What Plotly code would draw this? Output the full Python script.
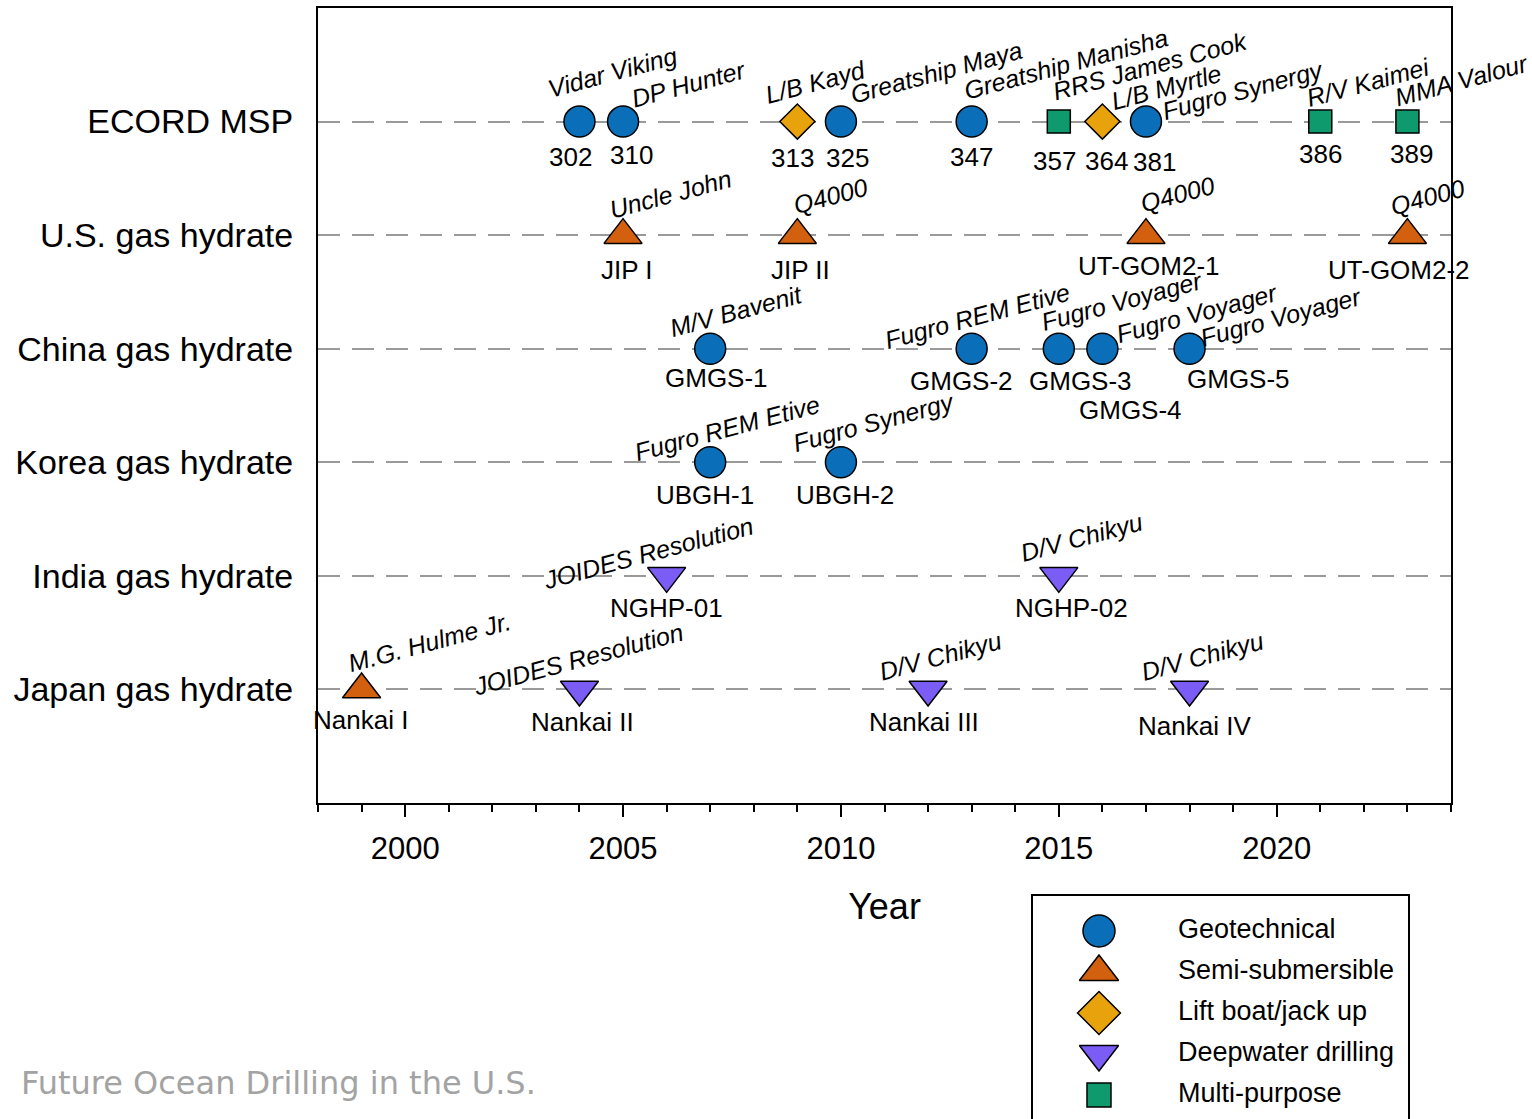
import plotly.graph_objects as go

# ---------------- data ----------------
programs = ["ECORD MSP", "U.S. gas hydrate", "China gas hydrate",
            "Korea gas hydrate", "India gas hydrate", "Japan gas hydrate"]

vessel_types = ["Geotechnical", "Semi-submersible", "Lift boat/jack up",
                "Deepwater drilling", "Multi-purpose"]

exp_program = (["ECORD MSP"] * 10 + ["U.S. gas hydrate"] * 4 +
               ["China gas hydrate"] * 5 + ["Korea gas hydrate"] * 2 +
               ["India gas hydrate"] * 2 + ["Japan gas hydrate"] * 4)

exp_year = [2004, 2005, 2009, 2010, 2013, 2015, 2016, 2017, 2021, 2023,
            2005, 2009, 2017, 2023,
            2007, 2013, 2015, 2016, 2018,
            2007, 2010,
            2006, 2015,
            1999, 2004, 2012, 2018]

exp_type = ["Geotechnical", "Geotechnical", "Lift boat/jack up", "Geotechnical",
            "Geotechnical", "Multi-purpose", "Lift boat/jack up", "Geotechnical",
            "Multi-purpose", "Multi-purpose",
            "Semi-submersible", "Semi-submersible", "Semi-submersible", "Semi-submersible",
            "Geotechnical", "Geotechnical", "Geotechnical", "Geotechnical", "Geotechnical",
            "Geotechnical", "Geotechnical",
            "Deepwater drilling", "Deepwater drilling",
            "Semi-submersible", "Deepwater drilling", "Deepwater drilling", "Deepwater drilling"]

exp_name = ["302", "310", "313", "325", "347", "357", "364", "381", "386", "389",
            "JIP I", "JIP II", "UT-GOM2-1", "UT-GOM2-2",
            "GMGS-1", "GMGS-2", "GMGS-3", "GMGS-4", "GMGS-5",
            "UBGH-1", "UBGH-2",
            "NGHP-01", "NGHP-02",
            "Nankai I", "Nankai II", "Nankai III", "Nankai IV"]

exp_ship = ["Vidar Viking", "DP Hunter", "L/B Kayd", "Greatship Maya",
            "Greatship Manisha", "RRS James Cook", "L/B Myrtle", "Fugro Synergy",
            "R/V Kaimei", "MMA Valour",
            "Uncle John", "Q4000", "Q4000", "Q4000",
            "M/V Bavenit", "Fugro REM Etive", "Fugro Voyager", "Fugro Voyager", "Fugro Voyager",
            "Fugro REM Etive", "Fugro Synergy",
            "JOIDES Resolution", "D/V Chikyu",
            "M.G. Hulme Jr.", "JOIDES Resolution", "D/V Chikyu", "D/V Chikyu"]

year_ticks = [2000, 2005, 2010, 2015, 2020]

# ---------------- styles / label placement (pixels) ----------------
styles = {
    "Geotechnical":       dict(symbol="circle",        color="#0a6fb8", size=31, lsize=32),
    "Semi-submersible":   dict(symbol="triangle-up",   color="#d2600e", size=33, lsize=34),
    "Lift boat/jack up":  dict(symbol="diamond",       color="#e8a20c", size=27, lsize=33),
    "Deepwater drilling": dict(symbol="triangle-down", color="#7b5cf5", size=33, lsize=34),
    "Multi-purpose":      dict(symbol="square",        color="#0f9a6e", size=23, lsize=24),
}

ship_offsets = [(33, -50), (65, -38), (18, -40), (96, -50), (94, -58), (91, -56),
                (64, -35), (97, -32), (48, -40), (54, -42),
                (47, -41), (33, -39), (32, -41), (20, -38),
                (26, -38), (5, -33), (63, -48), (95, -36), (91, -32),
                (17, -34), (33, -40),
                (-19, -23), (23, -39),
                (68, -47), (-1, -30), (12, -33), (13, -33)]

name_offsets = [(-9, 35), (8, 33), (-5, 36), (7, 36), (0, 35), (-4, 39), (4, 39),
                (9, 40), (0, 32), (4, 32),
                (4, 35), (3, 35), (3, 31), (-8, 35),
                (6, 29), (-10, 32), (22, 32), (28, 61), (49, 30),
                (-5, 33), (4, 33),
                (0, 32), (13, 32),
                (-1, 31), (3, 33), (-4, 33), (5, 37)]

FONT = "Liberation Sans, Arial, sans-serif"
W, H = 1532, 1119
# plot area in pixels
PL, PR, PT, PB = 318, 1451, 8, 803

row_value = {p: len(programs) - i for i, p in enumerate(programs)}

fig = go.Figure()

for vt in vessel_types:
    idx = [i for i, t in enumerate(exp_type) if t == vt]
    st = styles[vt]
    fig.add_trace(go.Scatter(
        x=[exp_year[i] for i in idx],
        y=[row_value[exp_program[i]] for i in idx],
        mode="markers",
        marker=dict(symbol=st["symbol"], size=st["size"], color=st["color"],
                    line=dict(color="black", width=1.5)),
        name=vt, showlegend=False, xaxis="x", yaxis="y",
        cliponaxis=False,
    ))

annotations = []
for i in range(len(exp_year)):
    yv = row_value[exp_program[i]]
    dx, dy = ship_offsets[i]
    annotations.append(dict(
        x=exp_year[i], y=yv, xref="x", yref="y", text="<i>" + exp_ship[i] + "</i>",
        showarrow=False, textangle=-15, xanchor="center", yanchor="middle",
        xshift=dx, yshift=-dy, font=dict(family=FONT, size=25, color="black")))
    dx, dy = name_offsets[i]
    annotations.append(dict(
        x=exp_year[i], y=yv, xref="x", yref="y", text=exp_name[i],
        showarrow=False, xanchor="center", yanchor="middle",
        xshift=dx, yshift=-dy, font=dict(family=FONT, size=26, color="black")))

# watermark
annotations.append(dict(
    x=19 / W, y=(H - 1083) / H, xref="paper", yref="paper",
    text="Future Ocean Drilling in the U.S.", showarrow=False,
    xanchor="left", yanchor="middle",
    font=dict(family="DejaVu Sans, sans-serif", size=32, color="#a3a3a3")))

# ---------------- legend (drawn on its own small axes) ----------------
LX0, LX1, LY0 = 1032, 1409, 895
for k, vt in enumerate(vessel_types):
    st = styles[vt]
    fig.add_trace(go.Scatter(
        x=[0], y=[k], mode="markers",
        marker=dict(symbol=st["symbol"], size=st["lsize"], color=st["color"],
                    line=dict(color="black", width=1.5)),
        showlegend=False, xaxis="x2", yaxis="y2", cliponaxis=False, hoverinfo="skip"))
fig.add_trace(go.Scatter(
    x=[1] * len(vessel_types), y=list(range(len(vessel_types))),
    mode="text", text=vessel_types, textposition="middle right",
    textfont=dict(family=FONT, size=27, color="black"),
    showlegend=False, xaxis="x2", yaxis="y2", cliponaxis=False, hoverinfo="skip"))

fig.add_shape(type="rect", xref="paper", yref="paper",
              x0=LX0 / W, x1=LX1 / W, y0=-0.05, y1=(H - LY0) / H,
              line=dict(color="black", width=2), fillcolor="rgba(0,0,0,0)")

fig.update_layout(
    width=W, height=H,
    margin=dict(l=0, r=0, t=0, b=0),
    paper_bgcolor="white", plot_bgcolor="white",
    showlegend=False,
    annotations=annotations,
    xaxis=dict(
        domain=[PL / W, PR / W], range=[1998, 2024],
        tickvals=year_ticks, ticks="outside", ticklen=12, tickwidth=1.5,
        tickcolor="black",
        minor=dict(dtick=1, tick0=1998, ticks="outside", ticklen=7,
                   tickwidth=1.5, tickcolor="black", showgrid=False),
        showline=True, linecolor="black", linewidth=2, mirror=True,
        showgrid=False, zeroline=False,
        tickfont=dict(family=FONT, size=31, color="black"),
        ticklabelstandoff=5,
        title=dict(text="Year", standoff=29,
                   font=dict(family=FONT, size=36, color="black")),
        anchor="y",
    ),
    yaxis=dict(
        domain=[(H - PB) / H, (H - PT) / H], range=[0, 7],
        tickvals=[row_value[p] for p in programs], ticktext=programs,
        ticks="", showline=True, linecolor="black", linewidth=2, mirror=True,
        showgrid=True, gridcolor="#9a9a9a", gridwidth=1.5, griddash="22px,12px",
        zeroline=False,
        tickfont=dict(family=FONT, size=34, color="black"),
        ticklabelstandoff=16,
        anchor="x",
    ),
    xaxis2=dict(domain=[LX0 / W, LX1 / W], range=[-0.848, 3.924],
                visible=False, fixedrange=True, anchor="y2"),
    yaxis2=dict(domain=[0, (H - LY0) / H], range=[4.585, -0.878],
                visible=False, fixedrange=True, anchor="x2"),
)

fig.write_html("out.html")
